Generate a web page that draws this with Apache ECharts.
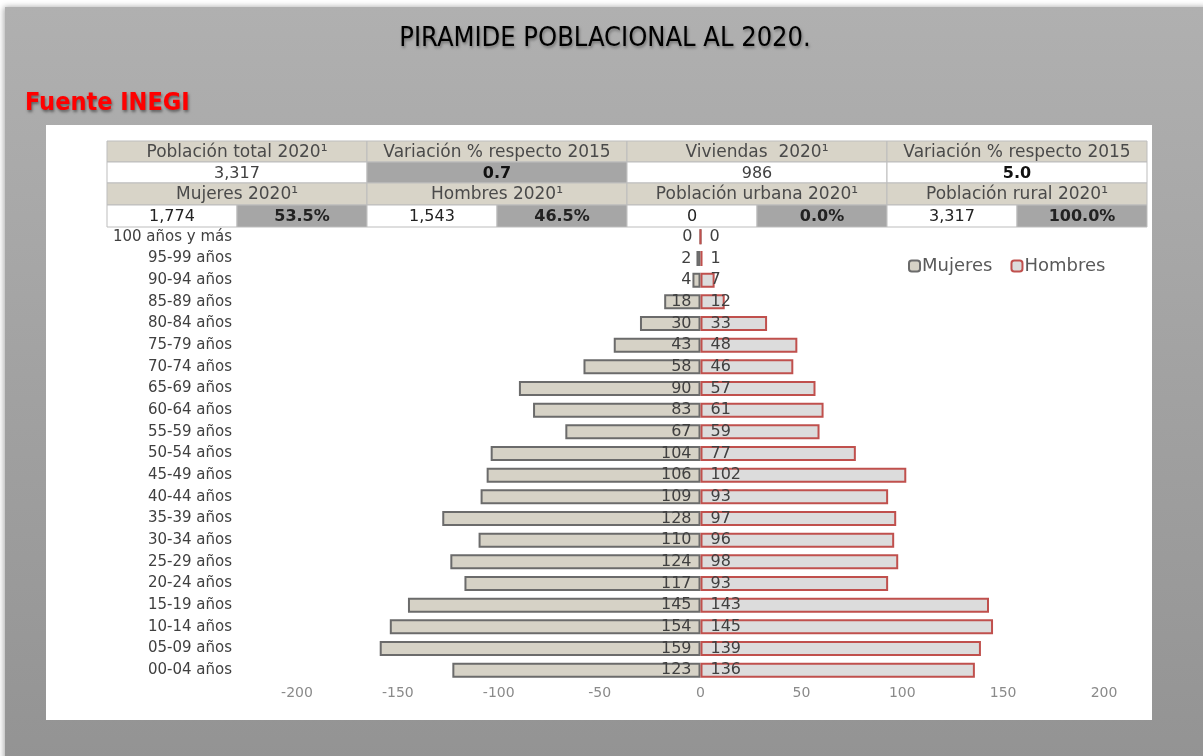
<!DOCTYPE html>
<html>
<head>
<meta charset="utf-8">
<script src="https://cdn.jsdelivr.net/npm/echarts@6/dist/echarts.min.js"></script>
<style>
  html, body { margin: 0; padding: 0; background: #fff; }
  #main { width: 1203px; height: 756px; }
</style>
</head>
<body>
<div id="main"></div>
<script>
// grupos de edad (de arriba hacia abajo)
var ages = ['100 años y más', '95-99 años', '90-94 años', '85-89 años', '80-84 años', '75-79 años',
  '70-74 años', '65-69 años', '60-64 años', '55-59 años', '50-54 años', '45-49 años', '40-44 años',
  '35-39 años', '30-34 años', '25-29 años', '20-24 años', '15-19 años', '10-14 años', '05-09 años', '00-04 años'];
var mujeres = [0, 2, 4, 18, 30, 43, 58, 90, 83, 67, 104, 106, 109, 128, 110, 124, 117, 145, 154, 159, 123];
var hombres = [0, 1, 7, 12, 33, 48, 46, 57, 61, 59, 77, 102, 93, 97, 96, 98, 93, 143, 145, 139, 136];

// tabla de resumen
var headRow1 = ['Población total 2020¹', 'Variación % respecto 2015', 'Viviendas  2020¹', 'Variación % respecto 2015'];
var valRow1 = ['3,317', '0.7', '986', '5.0'];
var headRow2 = ['Mujeres 2020¹', 'Hombres 2020¹', 'Población urbana 2020¹', 'Población rural 2020¹'];
var valRow2 = [['1,774', '53.5%'], ['1,543', '46.5%'], ['0', '0.0%'], ['3,317', '100.0%']];

var chartDom = document.getElementById('main');
var myChart = echarts.init(chartDom);

var FONT = 'DejaVu Sans';
var COND = '"DejaVu Sans Condensed", "Liberation Sans", sans-serif';
var beige = '#d8d4c8';
var grayCell = '#a6a6a6';
var lineCol = '#bdbdbd';

function cell(x, y, w, h, fill, text, bold, color, size) {
  return [{
    type: 'rect',
    shape: { x: x, y: y, width: w, height: h },
    style: { fill: fill, stroke: lineCol, lineWidth: 1 }
  }, {
    type: 'text',
    x: x + w / 2, y: y + h / 2 + 1,
    style: {
      text: text, align: 'center', verticalAlign: 'middle',
      font: (bold ? 'bold ' : '') + size + 'px "' + FONT + '"',
      fill: color || '#404040'
    }
  }];
}

var graphics = [
  {
    type: 'rect',
    shape: { x: 5, y: 7, width: 1203, height: 760 },
    style: {
      fill: new echarts.graphic.LinearGradient(0, 0, 0, 1, [
        { offset: 0, color: '#b0b0b0' }, { offset: 1, color: '#939393' }
      ]),
      shadowColor: 'rgba(0,0,0,0.35)', shadowBlur: 6, shadowOffsetX: -1
    }
  },
  {
    type: 'rect',
    shape: { x: 46, y: 125, width: 1106, height: 595 },
    style: { fill: '#ffffff' }
  },
  {
    type: 'text', x: 605, y: 39,
    style: {
      text: 'PIRAMIDE POBLACIONAL AL 2020.', align: 'center', verticalAlign: 'middle',
      font: '27px ' + COND, fill: '#000',
      textShadowColor: 'rgba(0,0,0,0.35)', textShadowBlur: 3, textShadowOffsetX: 1, textShadowOffsetY: 2
    }
  },
  {
    type: 'text', x: 25, y: 103,
    style: {
      text: 'Fuente INEGI', align: 'left', verticalAlign: 'middle',
      font: 'bold 25px ' + COND, fill: '#ff0000',
      textShadowColor: 'rgba(0,0,0,0.45)', textShadowBlur: 3, textShadowOffsetX: 1, textShadowOffsetY: 2
    }
  }
];

var tx = 107, cw = 260;
var rows = [141, 162, 183, 205, 227];
for (var i = 0; i < 4; i++) {
  var x = tx + i * cw;
  graphics = graphics.concat(cell(x, rows[0], cw, rows[1] - rows[0], beige, headRow1[i], false, '#4a4a4a', 17));
  graphics = graphics.concat(cell(x, rows[1], cw, rows[2] - rows[1], i === 1 ? grayCell : '#fff', valRow1[i], i % 2 === 1, i % 2 === 1 ? '#111' : '#404040', 16));
  graphics = graphics.concat(cell(x, rows[2], cw, rows[3] - rows[2], beige, headRow2[i], false, '#4a4a4a', 17));
  graphics = graphics.concat(cell(x, rows[3], cw / 2, rows[4] - rows[3], '#fff', valRow2[i][0], false, '#222', 16));
  graphics = graphics.concat(cell(x + cw / 2, rows[3], cw / 2, rows[4] - rows[3], grayCell, valRow2[i][1], true, '#222', 16));
}

var option = {
  backgroundColor: '#ffffff',
  animation: false,
  graphic: { elements: graphics },
  legend: {
    data: ['Mujeres', 'Hombres'],
    left: 903,
    top: 252,
    itemWidth: 11,
    itemHeight: 11,
    itemGap: 18,
    textStyle: { color: '#595959', fontSize: 18, fontFamily: FONT, padding: [0, 0, 0, -3] }
  },
  grid: {
    left: 297,
    right: 99,
    top: 226,
    bottom: 75
  },
  xAxis: {
    type: 'value',
    min: -200,
    max: 200,
    interval: 50,
    axisLine: { show: false },
    axisTick: { show: false },
    splitLine: { show: false },
    axisLabel: { color: '#8a8a8a', fontSize: 14, fontFamily: FONT, margin: 5 }
  },
  yAxis: {
    type: 'category',
    inverse: true,
    data: ages,
    axisLine: { show: false },
    axisTick: { show: false },
    axisLabel: { color: '#404040', fontSize: 15, fontFamily: FONT, margin: 65 }
  },
  series: [
    {
      name: 'Mujeres',
      type: 'bar',
      barWidth: 15,
      barGap: '-100%',
      data: mujeres.map(function (v) { return -v; }),
      itemStyle: { color: '#d6d2c6', borderColor: '#6b6b6b', borderWidth: 2 },
      label: {
        show: true,
        position: 'insideRight',
        distance: 9,
        color: '#404040',
        fontSize: 16,
        fontFamily: FONT,
        formatter: function (p) { return Math.abs(p.value); }
      }
    },
    {
      name: 'Hombres',
      type: 'bar',
      barWidth: 15,
      data: hombres,
      itemStyle: { color: '#dcdcdc', borderColor: '#c0504d', borderWidth: 2 },
      label: {
        show: true,
        position: 'insideLeft',
        distance: 10,
        color: '#404040',
        fontSize: 16,
        fontFamily: FONT
      }
    }
  ]
};

option && myChart.setOption(option);
</script>
</body>
</html>
